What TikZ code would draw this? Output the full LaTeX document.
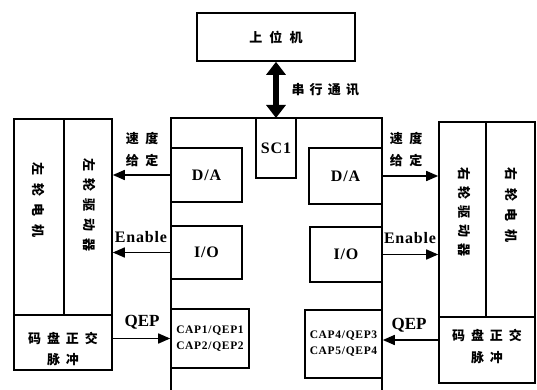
\documentclass[tikz,border=0pt]{standalone}
\usepackage{fontspec}
\setmainfont{Liberation Serif}
\newfontfamily\cjk{Noto Sans CJK SC}
\usetikzlibrary{arrows.meta}
\tikzset{
  box/.style={draw, line width=1.6pt, inner sep=0pt, rectangle},
  lat/.style={font=\fontsize{16}{18}\selectfont\bfseries\addfontfeature{LetterSpace=5}},
  captext/.style={font=\fontsize{11.5}{16}\selectfont\bfseries\addfontfeature{LetterSpace=6}, align=center},
  zh/.style={font=\fontsize{13}{22}\selectfont\cjk\bfseries\addfontfeature{LetterSpace=#1}, align=center},
  arr/.style={line width=1.6pt, -{Triangle[length=12pt,width=10pt]}},
}
\begin{document}
\begin{tikzpicture}[x=1pt,y=-1pt]
\useasboundingbox (0,0) rectangle (537,390);
% top
\node[box, minimum width=158pt, minimum height=48pt] (pc) at (276,37) {};
\node[zh=55] (pct) at (pc) {上位机};
% main DSP frame
\coordinate (m1) at (171,390);
\coordinate (m2) at (171,118);
\coordinate (m3) at (382,118);
\coordinate (m4) at (382,390);
\draw[line width=1.6pt] (m1) -- (m2) -- (m3) -- (m4);
% serial arrow
\coordinate (ms) at (pc.south |- m2);
\draw[line width=6pt, {Triangle[length=13pt,width=19pt]}-{Triangle[length=13pt,width=19pt]}] (pc.south) -- (ms);
\node[zh=40, anchor=west] (ser) at (288,90) {串行通讯};
% inner boxes
\node[box, minimum width=40pt, minimum height=60pt] (sc1) at (276,148) {};
\node[lat] (sc1t) at (sc1) {SC1};
\node[box, minimum width=71pt, minimum height=54pt] (daL) at (206.5,175) {};
\node[lat] (daLt) at (daL) {D/A};
\node[box, minimum width=71pt, minimum height=53pt] (ioL) at (206.5,252.5) {};
\node[lat] (ioLt) at (ioL) {I/O};
\node[box, minimum width=78pt, minimum height=59pt] (capL) at (210,338.5) {};
\node[captext] (capLt) at (capL) {CAP1/QEP1\\CAP2/QEP2};
\node[box, minimum width=73pt, minimum height=56pt] (daR) at (345.5,176) {};
\node[lat] (daRt) at (daR) {D/A};
\node[box, minimum width=72pt, minimum height=55pt] (ioR) at (346,254.5) {};
\node[lat] (ioRt) at (ioR) {I/O};
\node[box, minimum width=77pt, minimum height=68pt] (capR) at (343.5,344) {};
\node[captext] (capRt) at (capR) {CAP4/QEP3\\CAP5/QEP4};
% left motor block
\node[box, minimum width=50pt, minimum height=196pt] (motL) at (39,217) {};
\node[box, minimum width=48pt, minimum height=196pt] (drvL) at (88,217) {};
\node[box, minimum width=98pt, minimum height=55pt] (encL) at (63,342.5) {};
\node[zh=60, rotate=-90] (motLt) at (38,200) {左轮电机};
\node[zh=55, rotate=-90] (drvLt) at (89,205) {左轮驱动器};
\node[zh=45, font=\fontsize{13}{21}\selectfont\cjk\bfseries\addfontfeature{LetterSpace=45}] (encLt) at (63,349) {码盘正交\\脉冲};
% right motor block
\node[box, minimum width=47pt, minimum height=195pt] (drvR) at (462.5,219.5) {};
\node[box, minimum width=49pt, minimum height=195pt] (motR) at (510.5,219.5) {};
\node[box, minimum width=96pt, minimum height=66pt] (encR) at (487,350) {};
\node[zh=48, rotate=-90] (drvRt) at (464,212) {右轮驱动器};
\node[zh=58, rotate=-90] (motRt) at (511,205) {右轮电机};
\node[zh=45, font=\fontsize{13}{22}\selectfont\cjk\bfseries\addfontfeature{LetterSpace=45}] (encRt) at (487,346) {码盘正交\\脉冲};
% arrows left
\draw[arr] (daL.west) -- (daL.west -| drvL.east);
\draw[arr] (ioL.west) -- (ioL.west -| drvL.east);
\draw[arr] (encL.east |- capL.west) -- (capL.west);
% arrows right
\draw[arr] (daR.east) -- (daR.east -| drvR.west);
\draw[arr] (ioR.east) -- (ioR.east -| drvR.west);
\coordinate (qr) at ([yshift=4pt]capR.east);
\draw[arr] (qr -| encR.west) -- (qr);
% labels
\node[zh=50] (spdL) at (142,150) {速度\\给定};
\node[zh=50] (spdR) at (406,150) {速度\\给定};
\node[lat] (enL) at (141,237) {Enable};
\node[lat] (enR) at (410,238) {Enable};
\node[lat, font=\fontsize{17}{18}\selectfont\bfseries] (qepL) at (142,322) {QEP};
\node[lat, font=\fontsize{17}{18}\selectfont\bfseries] (qepR) at (409,325) {QEP};
\end{tikzpicture}
\end{document}
